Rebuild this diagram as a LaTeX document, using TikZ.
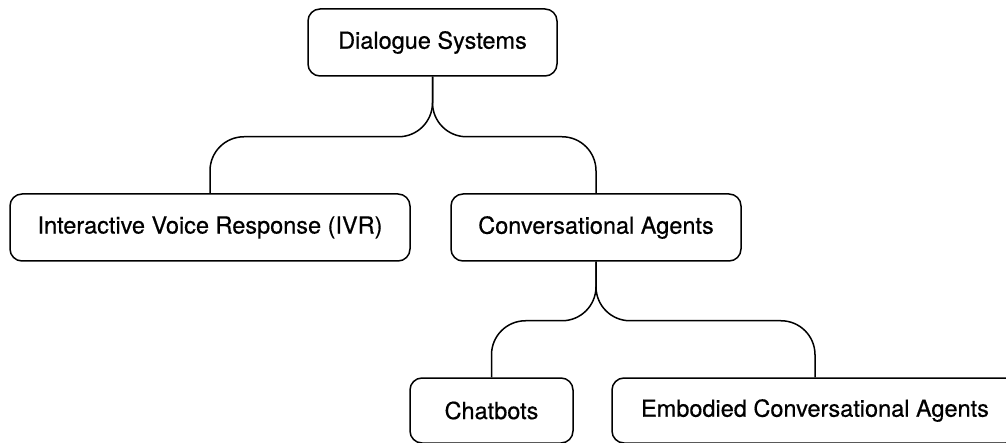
\documentclass[tikz,border=0pt]{standalone}
\usepackage{fontspec}
\setmainfont{TeX Gyre Heros}
\newfontfamily\boxfont[FakeBold=0.5]{TeX Gyre Heros}
\usepackage{tikz}
\tikzset{
    category-box/.style = {draw=black, fill=white, line width=1.5pt, rectangle, rounded corners=12pt, inner sep=0pt, minimum height=67pt, font=\boxfont\fontsize{23.5}{28}\selectfont},
    tree-link/.style = {draw=black, line width=1.5pt, rounded corners=34pt},
}

\begin{document}
\begin{tikzpicture}[x=1pt, y=-1pt]
\useasboundingbox (0,0) rectangle (1006,443);
\node [category-box, minimum width=249pt] (dialogue) at (432.5,42.5) {Dialogue Systems};
\node [category-box, minimum width=400pt] (ivr) at (210,227.5) {Interactive Voice Response (IVR)};
\node [category-box, minimum width=290pt] (agents) at (596,227.5) {Conversational Agents};
\node [category-box, minimum width=163pt, minimum height=65pt] (chatbots) at (491.5,410.5) {Chatbots};
\node [category-box, minimum width=406pt, minimum height=65pt] (embodied) at (815,410.5) {Embodied Conversational Agents};
% branches
\draw[tree-link] (dialogue.south) -- ++(0,60) -| (ivr.north);
\draw[tree-link] (dialogue.south) -- ++(0,60) -| (agents.north);
\draw[tree-link] (agents.south) -- ++(0,59) -| (chatbots.north);
\draw[tree-link] (agents.south) -- ++(0,59) -| (embodied.north);
\end{tikzpicture}
\end{document}
